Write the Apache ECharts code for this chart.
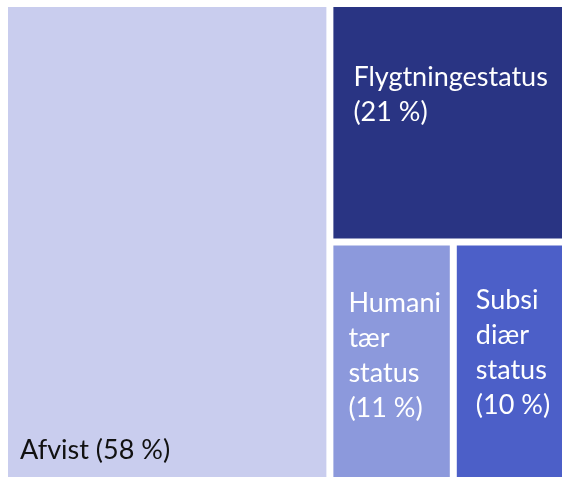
<!DOCTYPE html>
<html>
<head>
<meta charset="utf-8">
<script src="https://cdn.jsdelivr.net/npm/echarts@6/dist/echarts.min.js"></script>
<style>
  html, body { margin: 0; padding: 0; background: #fff; }
  #main { width: 565px; height: 477px; }
</style>
</head>
<body>
<div id="main"></div>
<script>
// andele af afgørelser (%)
const names = ['Afvist', 'Flygtningestatus', 'Humanitær status', 'Subsidiær status'];
const values = [58, 21, 11, 10];
// labeltekst som i figuren, med linjeskift
const labelLines = [
  ['Afvist (58 %)'],
  ['Flygtningestatus', '(21 %)'],
  ['Humani', 'tær', 'status', '(11 %)'],
  ['Subsi', 'diær', 'status', '(10 %)']
];
const colors = ['#C9CDEE', '#293483', '#8C99DC', '#4C5FC8'];

// labelplacering i hver boks (x, y fra øverste venstre hjørne)
const labelPos = [[12, 0], [15, 48], [10, 35], [14, 32]];

const chart = echarts.init(document.getElementById('main'), null, { renderer: 'canvas' });

const data = names.map(function (n, i) {
  const item = {
    name: n,
    value: values[i],
    itemStyle: { color: colors[i] },
    label: {
      formatter: labelLines[i].join('\n'),
      color: i === 0 ? '#111111' : '#ffffff',
      position: labelPos[i]
    }
  };
  if (i === 0) {
    item.label.position = 'insideBottomLeft';
    item.label.padding = [0, 0, 9, 12];
  }
  return item;
});

chart.setOption({
  animation: false,
  series: [{
    type: 'treemap',
    left: 8, top: 7, right: 3, bottom: 0,
    roam: false,
    nodeClick: false,
    breadcrumb: { show: false },
    // giver samme opdeling som i figuren (Afvist | Flygtninge over to små)
    squareRatio: 1.2,
    label: {
      show: true,
      fontFamily: 'Lato',
      fontSize: 27,
      lineHeight: 35,
      overflow: 'none'
    },
    levels: [
      { itemStyle: { gapWidth: 7, borderWidth: 0 } },
      { itemStyle: { borderWidth: 0, gapWidth: 0 } }
    ],
    data: data
  }]
});
</script>
</body>
</html>
